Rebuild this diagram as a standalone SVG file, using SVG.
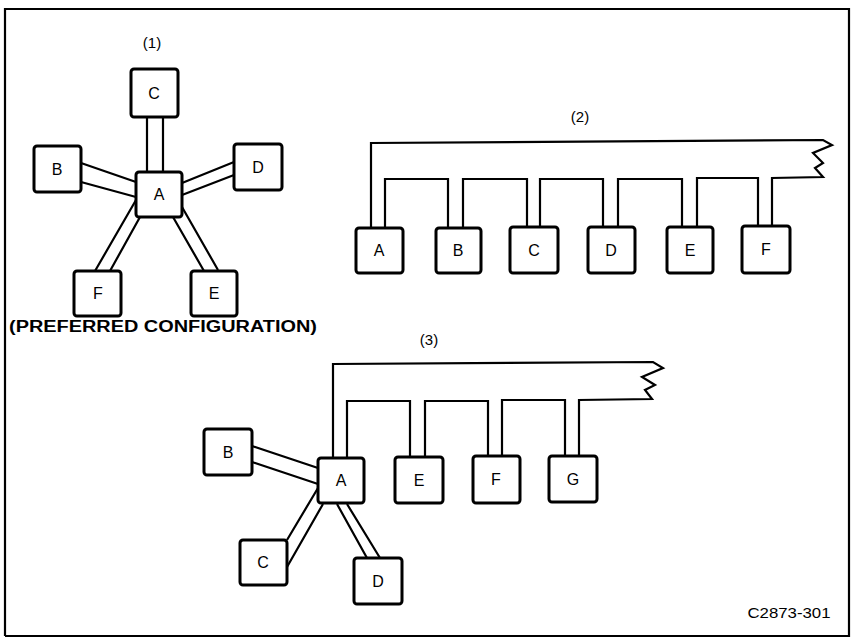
<svg xmlns="http://www.w3.org/2000/svg" width="851" height="638" viewBox="0 0 851 638">
<style>
.box{fill:#fff;stroke:#000;stroke-width:3}
.ln{fill:none;stroke:#000;stroke-width:2.2;stroke-linejoin:miter}
.lbl{font-family:"Liberation Sans",Arial,sans-serif;font-size:16px;text-anchor:middle;fill:#000}
.cap{font-family:"Liberation Sans",Arial,sans-serif;font-size:15px;text-anchor:middle;fill:#000}
</style>
<rect width="851" height="638" fill="#fff"/>
<path class="ln" d="M5,636 V9 H849 V636 H5" stroke-width="2"/>
<text class="cap" x="152" y="48">(1)</text>
<text class="cap" x="580" y="122">(2)</text>
<text class="cap" x="429" y="345">(3)</text>
<text x="163" y="332" font-family="'Liberation Sans',Arial,sans-serif" font-size="16" font-weight="bold" text-anchor="middle" textLength="308" lengthAdjust="spacingAndGlyphs">(PREFERRED CONFIGURATION)</text>
<text x="789" y="618" font-family="'Liberation Sans',Arial,sans-serif" font-size="15" text-anchor="middle" textLength="83" lengthAdjust="spacingAndGlyphs">C2873-301</text>
<g id="connectors">
<path class="ln" d="M147,117 V172 M163,117 V172"/>
<path class="ln" d="M81,163 L136,182 M81,182 L136,197"/>
<path class="ln" d="M234,162 L182,183 M234,175 L182,195"/>
<path class="ln" d="M136,200 L95,271 M140,217 L110,271"/>
<path class="ln" d="M173,217 L204,271 M182,207 L218,270"/>
<path class="ln" d="M371,228 V143 L823,140 L832,145 L813,153 L823,163 L815,168 L823,177 L772,178 V228"/>
<path class="ln" d="M385,228 V179 H448 V228 M463,228 V179 H527 V228 M540,228 V179 H603 V228 M618,228 V179 H682 V228 M697,228 V178 H758 V228"/>
<path class="ln" d="M333,458 V364 L653,362 L663,368 L642,377 L655,385 L645,390 L652,399 L579,400 V457"/>
<path class="ln" d="M347,458 V401 H410 V457 M425,457 V401 H488 V457 M502,457 V400 H565 V457"/>
<path class="ln" d="M252,446 L318,468 M252,462 L318,484"/>
<path class="ln" d="M318,488 L287,540 M323,504 L287,567"/>
<path class="ln" d="M337,504 L367,558 M347,504 L380,558"/>
</g>
<g id="n1A"><rect class="box" x="136" y="172" width="46" height="45" rx="3"/><text class="lbl" x="159" y="200">A</text></g>
<g id="n1B"><rect class="box" x="34" y="146" width="47" height="46" rx="3"/><text class="lbl" x="57" y="175">B</text></g>
<g id="n1C"><rect class="box" x="131" y="69" width="47" height="48" rx="3"/><text class="lbl" x="154" y="99">C</text></g>
<g id="n1D"><rect class="box" x="234" y="144" width="48" height="46" rx="3"/><text class="lbl" x="258" y="173">D</text></g>
<g id="n1E"><rect class="box" x="191" y="271" width="46" height="45" rx="3"/><text class="lbl" x="214" y="299">E</text></g>
<g id="n1F"><rect class="box" x="74" y="271" width="47" height="45" rx="3"/><text class="lbl" x="98" y="299">F</text></g>
<g id="n2A"><rect class="box" x="356" y="228" width="47" height="45" rx="3"/><text class="lbl" x="379" y="256">A</text></g>
<g id="n2B"><rect class="box" x="436" y="228" width="45" height="45" rx="3"/><text class="lbl" x="458" y="256">B</text></g>
<g id="n2C"><rect class="box" x="510" y="227" width="48" height="46" rx="3"/><text class="lbl" x="534" y="256">C</text></g>
<g id="n2D"><rect class="box" x="588" y="227" width="47" height="46" rx="3"/><text class="lbl" x="611" y="256">D</text></g>
<g id="n2E"><rect class="box" x="667" y="227" width="46" height="46" rx="3"/><text class="lbl" x="690" y="256">E</text></g>
<g id="n2F"><rect class="box" x="742" y="226" width="48" height="47" rx="3"/><text class="lbl" x="766" y="255">F</text></g>
<g id="n3A"><rect class="box" x="318" y="458" width="46" height="45" rx="3"/><text class="lbl" x="341" y="486">A</text></g>
<g id="n3B"><rect class="box" x="204" y="429" width="48" height="46" rx="3"/><text class="lbl" x="228" y="458">B</text></g>
<g id="n3C"><rect class="box" x="240" y="540" width="47" height="45" rx="3"/><text class="lbl" x="263" y="568">C</text></g>
<g id="n3D"><rect class="box" x="354" y="558" width="48" height="46" rx="3"/><text class="lbl" x="378" y="587">D</text></g>
<g id="n3E"><rect class="box" x="395" y="457" width="48" height="46" rx="3"/><text class="lbl" x="419" y="486">E</text></g>
<g id="n3F"><rect class="box" x="473" y="456" width="47" height="47" rx="3"/><text class="lbl" x="496" y="485">F</text></g>
<g id="n3G"><rect class="box" x="549" y="456" width="48" height="46" rx="3"/><text class="lbl" x="573" y="485">G</text></g>
</svg>
